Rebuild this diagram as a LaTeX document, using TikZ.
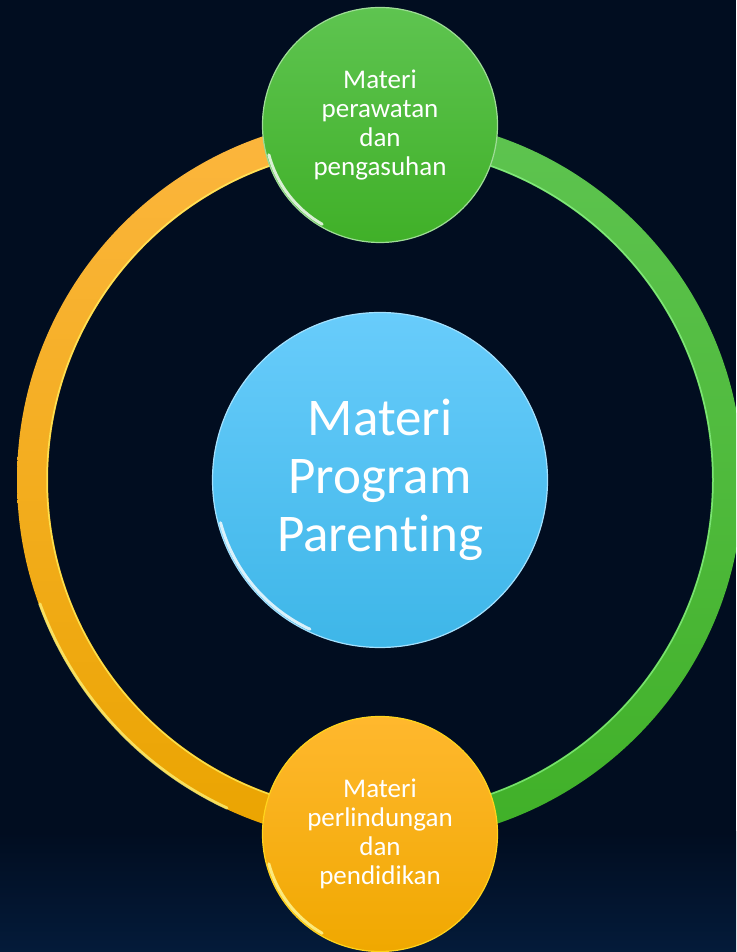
\documentclass[tikz,border=0pt]{standalone}
\usepackage{fontspec}
\setmainfont{Carlito}[Ligatures=NoCommon]
\usepackage{tikz}

\definecolor{bg}{RGB}{1,13,32}
\definecolor{bglow}{RGB}{4,27,58}
\definecolor{orangeTop}{RGB}{252,182,62}
\definecolor{orangeBot}{RGB}{234,164,0}
\definecolor{ballTop}{RGB}{255,184,46}
\definecolor{ballBot}{RGB}{240,168,0}
\definecolor{greenTop}{RGB}{94,196,80}
\definecolor{greenBot}{RGB}{64,176,40}
\definecolor{blueTop}{RGB}{104,204,251}
\definecolor{blueBot}{RGB}{62,182,232}

\tikzset{
bubble/.style={circle, inner sep=0pt, text=white, align=center, line width=1.2pt},
smalltext/.style={font=\fontsize{27}{29}\selectfont},
bigtext/.style={font=\fontsize{53}{58}\selectfont},
gloss/.style={line width=3pt, white, opacity=.8, line cap=round}
}

\begin{document}
\begin{tikzpicture}[x=1pt,y=1pt]

\fill[bg] (0,0) rectangle (736,952);
\shade[top color=bg, bottom color=bglow] (0,0) rectangle (736,120);
\useasboundingbox (0,0) rectangle (736,952);

\coordinate (c) at (380,472);
\coordinate (t) at (380,827);
\coordinate (b) at (380,118);

% ring, two halves
\begin{scope}
\clip (0,0) rectangle (380,952);
\shade[even odd rule, top color=orangeTop, bottom color=orangeBot] (c) circle[radius=363pt] (c) circle[radius=332pt];
\draw[line width=1.5pt, yellow!60!white, opacity=.7] (c) circle[radius=333pt];
\end{scope}
\begin{scope}
\clip (380,0) rectangle (736,952);
\shade[even odd rule, top color=greenTop, bottom color=greenBot] (c) circle[radius=363pt] (c) circle[radius=332pt];
\draw[line width=1.5pt, green!40!white, opacity=.6] (c) circle[radius=333pt];
\end{scope}
\draw[gloss, yellow!50!white, opacity=.7] ([shift={(200:362pt)}]c) arc[start angle=200, end angle=245, radius=362pt];

\node[bubble, bigtext, minimum size=335pt, top color=blueTop, bottom color=blueBot, draw=blueTop!60!white] (centre) at (c) {Materi\\Program\\Parenting};
\node[bubble, smalltext, minimum size=235pt, top color=greenTop, bottom color=greenBot, draw=greenTop!60!white] (care) at (t) {Materi\\perawatan\\dan\\pengasuhan};
\node[bubble, smalltext, minimum size=235pt, top color=ballTop, bottom color=ballBot, draw=ballTop!60!yellow] (protect) at (b) {Materi\\perlindungan\\dan\\pendidikan};

\draw[gloss] ([shift={(195:-3pt)}]centre.195) arc[start angle=195, end angle=245, radius=164.5pt];
\draw[gloss] ([shift={(195:-3pt)}]care.195) arc[start angle=195, end angle=240, radius=114.5pt];
\draw[gloss, yellow!40!white] ([shift={(195:-3pt)}]protect.195) arc[start angle=195, end angle=240, radius=114.5pt];

\end{tikzpicture}
\end{document}
